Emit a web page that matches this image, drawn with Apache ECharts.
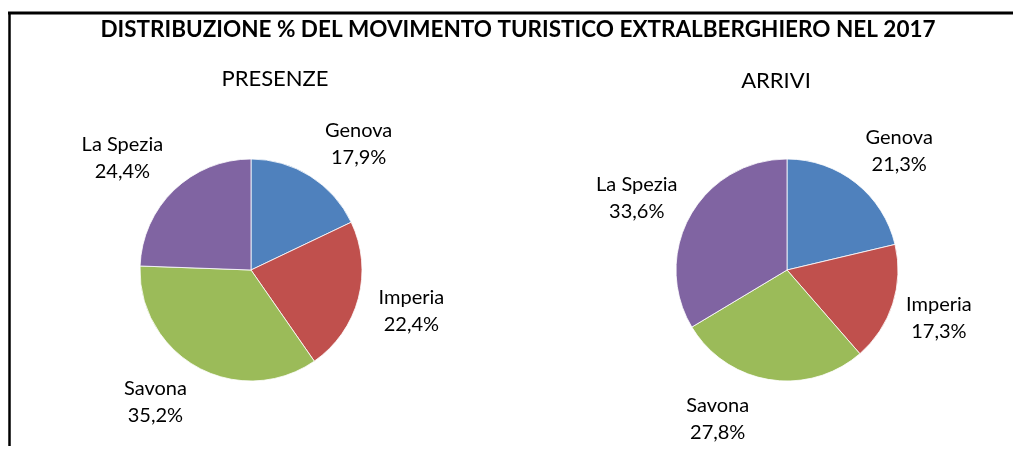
<!DOCTYPE html>
<html>
<head>
<meta charset="utf-8">
<script src="https://cdn.jsdelivr.net/npm/echarts@6/dist/echarts.min.js"></script>
<style>
	html, body { margin: 0; padding: 0; background: #fff; }
	#chart { width: 1013px; height: 450px; }
</style>
</head>
<body>
<div id="chart"></div>
<script>
	var regions = ['Genova', 'Imperia', 'Savona', 'La Spezia'];
	var colors = ['#4F81BD', '#C0504D', '#9BBB59', '#8064A2'];
	var presenze = [17.9, 22.4, 35.2, 24.4];
	var arrivi = [21.3, 17.3, 27.8, 33.6];

	var font = 'Lato, "Open Sans", sans-serif';

	// spostamento delle etichette rispetto alla bisettrice (come in Excel)
	var shiftPresenze = [[18, 16], [-2, -2], [-15, -15], [-12, 9]];
	var shiftArrivi = [[8, 13], [-8, -3], [-43, -17], [-4, 11]];

	function toData(values) {
		return regions.map(function(name, i) {
			return { name: name, value: values[i], itemStyle: { color: colors[i] } };
		});
	}

	// fetta visibile
	function pie(values, cx) {
		return {
			type: 'pie',
			center: [cx, 270],
			radius: [0, 111],
			startAngle: 90,
			clockwise: true,
			silent: true,
			itemStyle: { borderColor: '#fff', borderWidth: 0.8 },
			label: { show: false },
			labelLine: { show: false },
			data: toData(values)
		};
	}

	// anello trasparente solo per le etichette
	function labels(values, cx, shift) {
		return {
			type: 'pie',
			center: [cx, 270],
			radius: [150, 180],
			startAngle: 90,
			clockwise: true,
			silent: true,
			itemStyle: { color: 'transparent' },
			label: {
				show: true,
				position: 'inside',
				fontFamily: font,
				fontSize: 20,
				lineHeight: 27,
				color: '#000',
				formatter: function(p) {
					return p.name + '\n' + p.value.toFixed(1).replace('.', ',') + '%';
				}
			},
			labelLine: { show: false },
			data: regions.map(function(name, i) {
				return { name: name, value: values[i], label: { offset: shift[i] } };
			})
		};
	}

	var myChart = echarts.init(document.getElementById('chart'));
	var option = {
		backgroundColor: '#fff',
		animation: false,
		title: [
			{
				text: 'DISTRIBUZIONE % DEL MOVIMENTO TURISTICO EXTRALBERGHIERO NEL 2017',
				left: 518, top: 18, textAlign: 'center', padding: 0,
				textStyle: { fontFamily: font, fontSize: 22.5, fontWeight: 'bold', color: '#000' }
			},
			{
				text: 'PRESENZE',
				left: 275, top: 68, textAlign: 'center', padding: 0,
				textStyle: { fontFamily: font, fontSize: 22, fontWeight: 'normal', color: '#000' }
			},
			{
				text: 'ARRIVI',
				left: 776, top: 70, textAlign: 'center', padding: 0,
				textStyle: { fontFamily: font, fontSize: 22, fontWeight: 'normal', color: '#000' }
			}
		],
		graphic: [
			{ type: 'line', shape: { x1: 8, y1: 13, x2: 1013, y2: 13 }, style: { stroke: '#000', lineWidth: 3 } },
			{ type: 'line', shape: { x1: 9.5, y1: 12, x2: 9.5, y2: 446 }, style: { stroke: '#000', lineWidth: 2.5 } }
		],
		series: [
			pie(presenze, 251),
			labels(presenze, 251, shiftPresenze),
			pie(arrivi, 787),
			labels(arrivi, 787, shiftArrivi)
		]
	};
	myChart.setOption(option);
</script>
</body>
</html>
